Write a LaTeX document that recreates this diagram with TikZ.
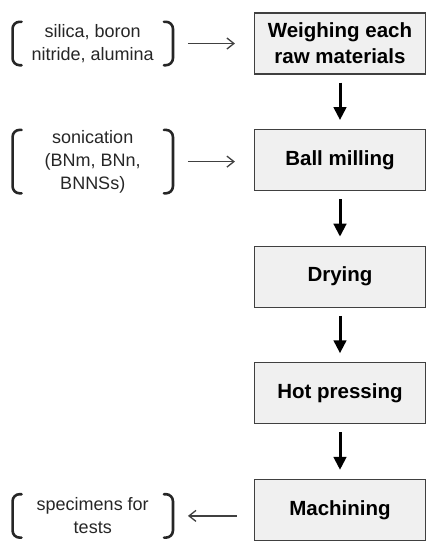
\documentclass[tikz,border=0pt]{standalone}
\usepackage{fontspec}
\setmainfont{Liberation Sans}
\usetikzlibrary{positioning, arrows.meta}

\begin{document}
\begin{tikzpicture}[
  x=1pt, y=-1pt,
  stepbox/.style={draw=black!75, fill=black!6, line width=1.1pt, align=center,
                  minimum width=171pt, minimum height=61pt, inner sep=0pt,
                  font=\fontsize{20.5}{26}\selectfont\bfseries},
  note/.style={align=center, inner sep=0pt, minimum width=160pt, text=black!85,
               font=\fontsize{18}{23}\selectfont},
  brk/.style={draw=black!85, line width=2.6pt, rounded corners=7pt, line cap=round},
  flow/.style={line width=3pt, shorten <=8pt, shorten >=9pt,
               -{Triangle[length=13pt, width=12.5pt]}},
  ar/.style={draw=black!75, line width=1.3pt,
             -{Straight Barb[length=7pt, width=11pt]}}
]
\useasboundingbox (0,0) rectangle (441,550);
\node[stepbox] (weigh) at (340,43.5) {Weighing each\\raw materials};
\node[stepbox, below=54.5pt of weigh] (mill) {Ball milling};
\node[stepbox, below=54.5pt of mill] (dry) {Drying};
\node[stepbox, below=54.5pt of dry] (press) {Hot pressing};
\node[stepbox, below=54.5pt of press] (machine) {Machining};
\node[note, minimum height=43pt, left=81pt of weigh] (raw) {silica, boron\\nitride, alumina};
\node[note, minimum height=63pt, left=81pt of mill, yshift=-1.5pt] (sonic) {sonication\\(BNm, BNn,\\BNNSs)};
\node[note, minimum height=43pt, left=81pt of machine, yshift=-6pt] (spec) {specimens for\\tests};
% brackets round the notes
\foreach \n in {raw, sonic, spec} {
  \draw[brk] ([xshift=9pt]\n.north west) -- (\n.north west) -- (\n.south west)
    -- ([xshift=9pt]\n.south west);
  \draw[brk] ([xshift=-9pt]\n.north east) -- (\n.north east) -- (\n.south east)
    -- ([xshift=-9pt]\n.south east);
}
\draw[flow] (weigh) -- (mill);
\draw[flow] (mill) -- (dry);
\draw[flow] (dry) -- (press);
\draw[flow] (press) -- (machine);
\draw[ar, shorten <=15pt, shorten >=19pt] (raw.east) -- (weigh.west |- raw.east);
\draw[ar, shorten <=15pt, shorten >=19pt] (sonic.east) -- (mill.west |- sonic.east);
\draw[ar, shorten <=17pt, shorten >=15pt] (machine.west |- spec.east) -- (spec.east);
\end{tikzpicture}
\end{document}
